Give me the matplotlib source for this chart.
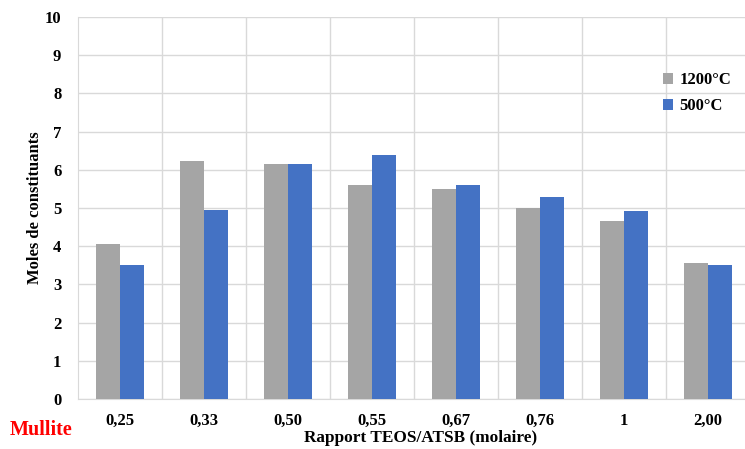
import matplotlib.pyplot as plt
import numpy as np

# Moles de constituants (Mullite) vs rapport TEOS/ATSB
ratios = ['0,25', '0,33', '0,50', '0,55', '0,67', '0,76', '1', '2,00']
moles_1200 = [4.05, 6.23, 6.14, 5.61, 5.49, 4.99, 4.66, 3.57]
moles_500 = [3.51, 4.94, 6.14, 6.38, 5.59, 5.30, 4.92, 3.51]

plt.rcParams['font.family'] = ['Liberation Serif', 'DejaVu Serif']
plt.rcParams['font.weight'] = 'bold'

fig = plt.figure(figsize=(7.45, 4.49), dpi=100)
ax = fig.add_axes([78 / 745, 1 - 399 / 449, 672 / 745, 382 / 449])

x = np.arange(len(ratios))
w = 0.286
ax.bar(x - w / 2, moles_1200, w, color='#a5a5a5', label='1200°C', zorder=3)
ax.bar(x + w / 2, moles_500, w, color='#4472c4', label='500°C', zorder=3)

ax.set_xlim(-0.5, len(ratios) - 0.5)
ax.set_ylim(0, 10)
ax.set_yticks(range(0, 11))
ax.set_xticks(x)
ax.set_xticklabels(ratios)
ax.tick_params(length=0, labelsize=12)
ax.tick_params(axis='y', pad=12)
ax.tick_params(axis='x', pad=10)

# grid: horizontal lines + category separators
ax.grid(axis='y', color='#d9d9d9', linewidth=1, zorder=0)
for b in np.arange(0.5, len(ratios) - 0.5, 1):
    ax.axvline(b, color='#d9d9d9', linewidth=1, zorder=0)
for s in ['top', 'right']:
    ax.spines[s].set_visible(False)
ax.spines['left'].set_color('#d9d9d9')
ax.spines['bottom'].set_color('#d9d9d9')

fig.text(35 / 745, 1 - 208 / 449, 'Moles de constituants', fontsize=12,
         fontweight='bold', rotation=90, ha='center', va='center')
fig.text(421 / 745, 1 - 438 / 449, 'Rapport TEOS/ATSB (molaire)', fontsize=12.4,
         fontweight='bold', ha='center', va='center')

ax.legend(loc='upper left', bbox_to_anchor=(0.848, 0.895), frameon=False,
          handlelength=0.6, handleheight=0.6, handletextpad=0.4,
          labelspacing=0.6, prop={'size': 12, 'weight': 'bold'})

fig.text(10 / 745, 1 - 430 / 449, 'Mullite', color='red', fontsize=14.5,
         fontweight='bold', va='center', ha='left')

fig.savefig('out.png', dpi=100)
